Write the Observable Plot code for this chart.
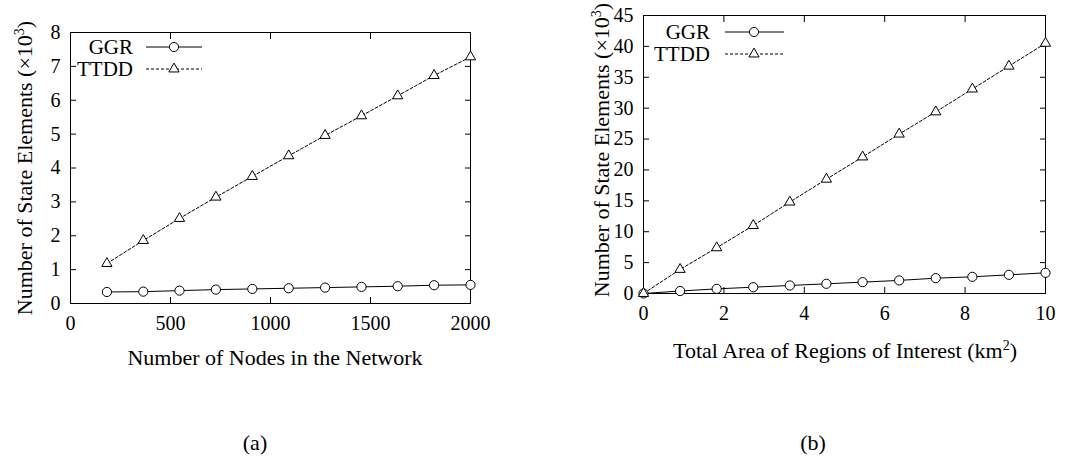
<!DOCTYPE html>
<html>
<head>
<meta charset="utf-8">
<script src="https://cdn.jsdelivr.net/npm/d3@7"></script>
<script src="https://cdn.jsdelivr.net/npm/@observablehq/plot@0.6"></script>
<style>
  html, body { margin: 0; padding: 0; background: white; }
  #root { position: relative; width: 1073px; height: 460px; overflow: hidden; color: black; font-family: "Liberation Serif"; }
</style>
</head>
<body>
<div id="root"></div>
<script>
// ---- data: panel (a) ----
const nodes     = [182, 364, 545, 727, 909, 1091, 1273, 1455, 1636, 1818, 2000];
const ggrNodes  = [0.34, 0.35, 0.38, 0.41, 0.43, 0.45, 0.47, 0.49, 0.51, 0.54, 0.55];
const ttddNodes = [1.18, 1.86, 2.51, 3.14, 3.75, 4.36, 4.96, 5.54, 6.13, 6.73, 7.28];
const xTicksA = [0, 500, 1000, 1500, 2000];
const yTicksA = [0, 1, 2, 3, 4, 5, 6, 7, 8];

// ---- data: panel (b) ----
const area     = [0, 0.91, 1.82, 2.73, 3.64, 4.55, 5.45, 6.36, 7.27, 8.18, 9.09, 10];
const ggrArea  = [0, 0.40, 0.75, 1.02, 1.30, 1.57, 1.84, 2.12, 2.48, 2.70, 3.02, 3.35];
const ttddArea = [0, 3.9, 7.4, 11.0, 14.8, 18.5, 22.1, 25.8, 29.4, 33.1, 36.8, 40.5];
const xTicksB = [0, 2, 4, 6, 8, 10];
const yTicksB = [0, 5, 10, 15, 20, 25, 30, 35, 40, 45];

const seriesNames = ["GGR", "TTDD"];
const FONT = '"Liberation Serif"';

const root = document.getElementById("root");

function panel({xs, ggr, ttdd, xTicks, yTicks, xDomain, yDomain, width, margins}) {
  const rows = xs.map((x, i) => ({x, ggr: ggr[i], ttdd: ttdd[i]}));
  const blank = () => "";
  const plain = (d) => String(d);
  const svg = Plot.plot({
    width, height: 380,
    marginLeft: margins[0], marginRight: margins[1], marginTop: margins[2], marginBottom: margins[3],
    style: {fontFamily: FONT, fontSize: "20px"},
    x: {domain: xDomain},
    y: {domain: yDomain},
    marks: [
      Plot.frame({stroke: "black", strokeWidth: 1}),
      Plot.axisX(xTicks, {anchor: "bottom", tickSize: 0, tickPadding: 12, label: null, tickFormat: plain}),
      Plot.axisX(xTicks, {anchor: "bottom", tickSize: -6, tickFormat: blank, label: null, strokeWidth: 1}),
      Plot.axisX(xTicks, {anchor: "top", tickSize: -6, tickFormat: blank, label: null, strokeWidth: 1}),
      Plot.axisY(yTicks, {anchor: "left", tickSize: 0, tickPadding: 10, label: null, tickFormat: plain}),
      Plot.axisY(yTicks, {anchor: "left", tickSize: -6, tickFormat: blank, label: null, strokeWidth: 1}),
      Plot.axisY(yTicks, {anchor: "right", tickSize: -6, tickFormat: blank, label: null, strokeWidth: 1}),
      Plot.line(rows, {x: "x", y: "ggr", stroke: "black", strokeWidth: 1}),
      Plot.line(rows, {x: "x", y: "ttdd", stroke: "black", strokeWidth: 1, strokeDasharray: "3,2"}),
      Plot.dot(rows, {x: "x", y: "ggr", r: 4.6, symbol: "circle", stroke: "black", fill: "white", strokeWidth: 1}),
      Plot.dot(rows, {x: "x", y: "ttdd", r: 3.8, symbol: "triangle", stroke: "black", fill: "white", strokeWidth: 1})
    ]
  });
  svg.style.position = "absolute";
  svg.style.top = "0px";
  return svg;
}

const pa = panel({xs: nodes, ggr: ggrNodes, ttdd: ttddNodes, xTicks: xTicksA, yTicks: yTicksA,
  xDomain: [0, 2000], yDomain: [0, 8], width: 540, margins: [70, 70, 32, 77]});
pa.style.left = "0px";
root.appendChild(pa);

const pb = panel({xs: area, ggr: ggrArea, ttdd: ttddArea, xTicks: xTicksB, yTicks: yTicksB,
  xDomain: [0, 10], yDomain: [0, 45], width: 533, margins: [103, 28, 15, 87]});
pb.style.left = "540px";
root.appendChild(pb);

// ---- overlay: legends, axis titles, captions ----
const ov = d3.create("svg").attr("width", 1073).attr("height", 460)
  .style("position", "absolute").style("left", "0px").style("top", "0px");

function legend(textRight, lineX1, lineX2, markX, yRows) {
  seriesNames.forEach((name, i) => {
    const y = yRows[i];
    ov.append("text").attr("x", textRight).attr("y", y).attr("dy", "0.35em")
      .attr("text-anchor", "end").attr("font-family", "Liberation Serif").attr("font-size", 21).text(name);
    ov.append("line").attr("x1", lineX1).attr("x2", lineX2).attr("y1", y).attr("y2", y)
      .attr("stroke", "black").attr("stroke-width", 1).attr("stroke-dasharray", i === 0 ? null : "3,2");
    if (i === 0) {
      ov.append("circle").attr("cx", markX).attr("cy", y).attr("r", 4.6).attr("fill", "white").attr("stroke", "black");
    } else {
      ov.append("path").attr("d", d3.symbol(d3.symbolTriangle, Math.PI * 3.8 * 3.8)())
        .attr("transform", `translate(${markX},${y})`).attr("fill", "white").attr("stroke", "black");
    }
  });
}
legend(133, 146, 202, 174, [47, 69]);
legend(710, 725, 784, 754, [32, 54]);

function title(parts, x, y, rotate) {
  const t = ov.append("text").attr("text-anchor", "middle").attr("dy", "0.35em")
    .attr("font-family", "Liberation Serif").attr("font-size", 22)
    .attr("transform", `translate(${x},${y})` + (rotate ? " rotate(-90)" : ""));
  parts.forEach(([s, sup]) => {
    const ts = t.append("tspan").text(s);
    if (sup) ts.attr("font-size", 14).attr("dy", "-0.55em");
    else if (t.selectAll("tspan").size() > 1) ts.attr("dy", "0.385em");
  });
}
title([["Number of State Elements (×10"], ["3", true], [")"]], 24, 168, true);
title([["Number of State Elements (×10"], ["3", true], [")"]], 601, 150, true);
title([["Number of Nodes in the Network"]], 275, 357, false);
title([["Total Area of Regions of Interest (km"], ["2", true], [")"]], 845, 350, false);
title([["(a)"]], 255, 442, false);
title([["(b)"]], 813, 442, false);

root.appendChild(ov.node());
</script>
</body>
</html>
